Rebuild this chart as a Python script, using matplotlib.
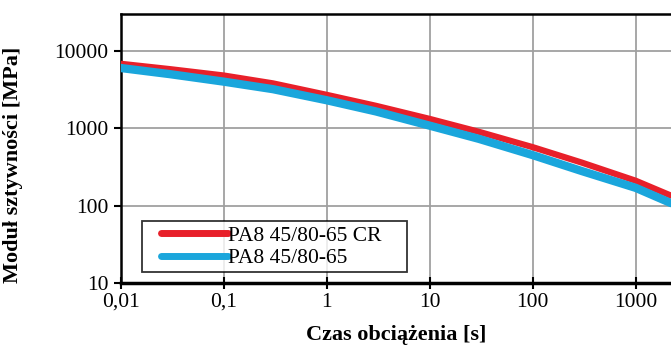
import matplotlib.pyplot as plt
from matplotlib.legend_handler import HandlerLine2D
import numpy as np

# data
czas = [0.01, 0.03, 0.1, 0.3, 1, 3, 10, 30, 100, 300, 1000, 2200]
modul_cr = [6800, 5800, 4800, 3800, 2700, 1950, 1320, 900, 570, 360, 210, 135]
modul = [6000, 5000, 4000, 3200, 2300, 1650, 1080, 730, 450, 280, 170, 108]

x_ticks = [0.01, 0.1, 1, 10, 100, 1000]
x_labels = ["0,01", "0,1", "1", "10", "100", "1000"]
y_ticks = [10, 100, 1000, 10000]
y_labels = ["10", "100", "1000", "10000"]

plt.rcParams['font.family'] = ['Liberation Serif', 'DejaVu Serif']

fig = plt.figure(figsize=(6.71, 3.47), dpi=100)
ax = fig.add_axes([0.180, 0.184, 0.820, 0.776])

ax.plot(czas, modul_cr, color="#e8202a", linewidth=4.5, solid_capstyle="round",
        label="PA8 45/80-65 CR", zorder=3)
ax.plot(czas, modul, color="#1aa6dc", linewidth=6, solid_capstyle="round",
        label="PA8 45/80-65", zorder=4)

ax.set_xscale("log")
ax.set_yscale("log")
ax.set_xlim(0.01, 2200)
ax.set_ylim(10, 30000)

ax.set_xticks(x_ticks)
ax.set_xticklabels(x_labels)
ax.set_yticks(y_ticks)
ax.set_yticklabels(y_labels)
ax.minorticks_off()
ax.tick_params(axis="both", labelsize=15.5, width=1.5, color="black")
ax.tick_params(axis="x", direction="inout", length=8, pad=3)
ax.tick_params(axis="y", direction="out", length=5, pad=4)

ax.grid(True, color="#a0a0a0", linewidth=1.3)
ax.set_axisbelow(True)

for s in ["left", "top"]:
    ax.spines[s].set_linewidth(1.8)
ax.spines["bottom"].set_linewidth(2.5)
ax.spines["right"].set_visible(False)

ax.set_xlabel("Czas obciążenia [s]", fontsize=16, fontweight="bold")
ax.set_ylabel("Moduł sztywności [MPa]", fontsize=16, fontweight="bold")
ax.xaxis.set_label_coords(0.5, -0.155)
ax.yaxis.set_label_coords(-0.178, 0.44)

leg = ax.legend(loc="lower left", bbox_to_anchor=(0.038, 0.04), fontsize=15.5,
                frameon=True, fancybox=False, edgecolor="black", handlelength=3.8,
                borderpad=0.2, labelspacing=0.1, handletextpad=0.0, borderaxespad=0,
                handler_map={plt.Line2D: HandlerLine2D(xpad=0.7)})
for t in leg.get_texts():
    t.set_text(t.get_text() + "    ")
for h in leg.get_lines():
    h.set_linewidth(5)
leg.get_frame().set_linewidth(1.3)

fig.savefig("out.png", dpi=100)
